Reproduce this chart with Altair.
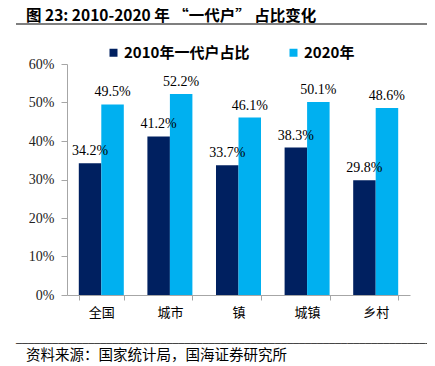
import altair as alt
import pandas as pd

categories = ["全国", "城市", "镇", "城镇", "乡村"]
series = ["2010年一代户占比", "2020年"]
v2010 = [34.2, 41.2, 33.7, 38.3, 29.8]
v2020 = [49.5, 52.2, 46.1, 50.1, 48.6]
colors = ["#002060", "#00B0F0"]
y_ticks = [0, 0.1, 0.2, 0.3, 0.4, 0.5, 0.6]
title_text = "图 23:  2010-2020 年 “一代户” 占比变化"
source_text = "资料来源：国家统计局，国海证券研究所"
divider_text = "─" * 70

rows = []
for c, a, b in zip(categories, v2010, v2020):
    rows.append({"cat": c, "series": series[0], "value": a / 100})
    rows.append({"cat": c, "series": series[1], "value": b / 100})
df = pd.DataFrame(rows)

CJK = "Noto Sans CJK SC"
SERIF = "Liberation Serif"

x = alt.X(
    "cat:N",
    sort=categories,
    scale=alt.Scale(paddingInner=0.344, paddingOuter=0.172),
    axis=alt.Axis(
        title=None, labelAngle=0, tickBand="extent", tickSize=5,
        domainColor="#a6a6a6", tickColor="#a6a6a6",
        labelFont=CJK, labelFontSize=13, labelColor="#000",
        labelPadding=6,
    ),
)
xoff = alt.XOffset("series:N", sort=series, scale=alt.Scale(paddingInner=0, paddingOuter=0))
y = alt.Y(
    "value:Q",
    scale=alt.Scale(domain=[0, 0.6], nice=False),
    axis=alt.Axis(
        title=None, format=".0%", values=y_ticks, grid=False, tickSize=6,
        domainColor="#a6a6a6", tickColor="#a6a6a6",
        labelFont=SERIF, labelFontSize=14, labelColor="#222", labelPadding=7,
    ),
)
color = alt.Color(
    "series:N",
    sort=series,
    scale=alt.Scale(domain=series, range=colors),
    legend=alt.Legend(
        title=None, orient="none", legendX=39, legendY=-19, direction="horizontal",
        symbolType="square", symbolSize=64, symbolStrokeWidth=0,
        labelFont=CJK, labelFontSize=15, labelFontWeight="bold", labelColor="#000",
        columnPadding=36, labelOffset=3, padding=0,
    ),
)

bars = alt.Chart(df).mark_bar().encode(x=x, xOffset=xoff, y=y, color=color)
labels = alt.Chart(df).mark_text(
    dy=-8, font=SERIF, fontSize=14, color="#000", baseline="alphabetic"
).encode(x=x, xOffset=xoff, y=y, text=alt.Text("value:Q", format=".1%"))

one = pd.DataFrame({"t": [title_text], "s": [source_text], "d": [divider_text]})
title = alt.Chart(one).mark_text(
    font=CJK, fontSize=15.5, fontWeight="bold", align="left", baseline="middle", color="#000"
).encode(x=alt.value(-41), y=alt.value(-48), text="t:N")
source = alt.Chart(one).mark_text(
    font=CJK, fontSize=14.5, align="left", baseline="middle", color="#000"
).encode(x=alt.value(-41), y=alt.value(292), text="s:N")
rule_top = alt.Chart(one).mark_rule(color="#555", strokeWidth=1.5).encode(
    x=alt.value(370), x2=alt.value(-51), y=alt.value(-40)
)
divider = alt.Chart(one).mark_text(
    font="DejaVu Sans Mono", fontSize=10, align="left", baseline="middle", color="#333"
).encode(x=alt.value(-51), y=alt.value(280), text="d:N")

chart = alt.layer(bars, labels, title, source, rule_top, divider).properties(
    width=343, height=231,
    autosize=alt.AutoSizeParams(type="none"),
    padding={"left": 59, "top": 56, "right": 17, "bottom": 69},
).configure_view(stroke=None)

chart.save("out.html", embed_options={"renderer": "svg", "actions": False})
